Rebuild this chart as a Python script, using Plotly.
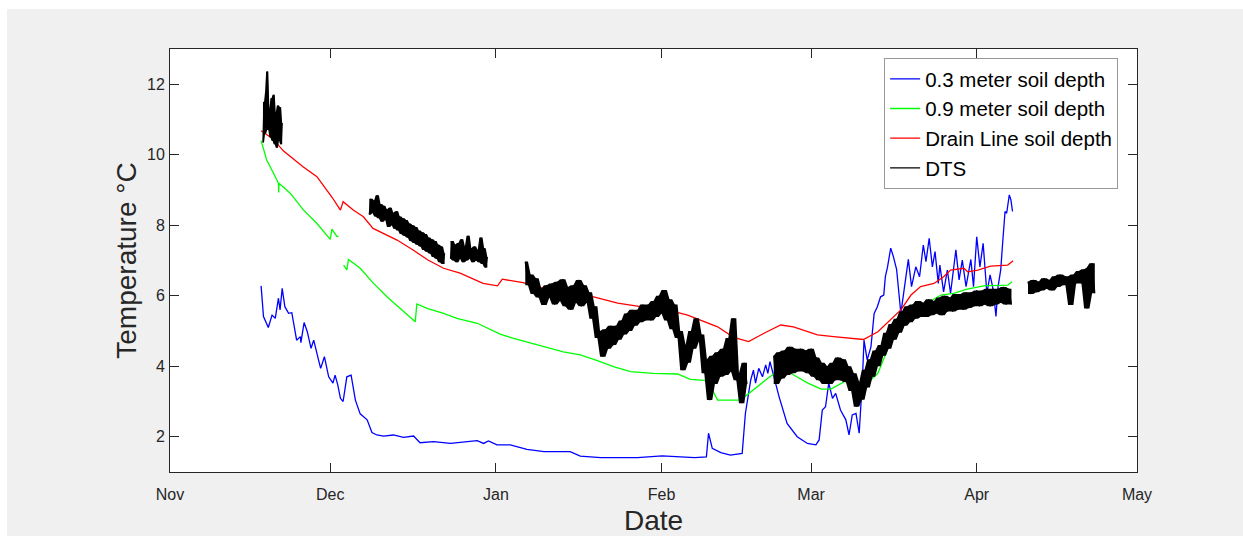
import pandas as pd
import plotly.graph_objects as go

BASE = pd.Timestamp("2018-11-01")

# ---------------- data (x = days since 1 Nov, y = temperature degC) ----------------
d03_day = [17.05, 17.5, 18.4, 19.1, 19.7, 20.3, 20.6, 21.0, 21.5, 22.2, 22.8, 23.7, 24.4, 24.5, 25.1, 25.7,
           26.4, 26.9, 27.8, 28.2, 28.9, 29.7, 30.5, 30.9, 31.4, 31.9, 32.4, 33.1, 33.9, 34.7, 35.6, 36.9,
           37.8, 38.7, 40.0, 41.8, 43.7, 45.6, 46.8, 49.3, 52.5, 56.2, 57.5, 58.7, 59.6, 61.2, 63.7, 66.8,
           70.0, 74.9, 76.8, 80.6, 87.5, 92.1, 98.2, 100.4, 100.8, 101.5, 103.1, 104.9, 107.1, 107.7, 108.1,
           108.7, 109.2, 109.6, 110.2, 110.9, 111.5, 111.9, 112.3, 113.0, 114.0, 115.5, 117.4, 119.3, 120.9,
           121.5, 122.1, 122.7, 123.3, 124.0, 124.6, 125.5, 126.5, 127.1, 127.7, 128.4, 129.0, 129.6, 129.9,
           130.5, 131.2, 131.8, 132.4, 133.0, 133.6, 133.9, 134.3, 134.9, 135.4, 136.0, 136.8, 137.4, 138.2,
           138.8, 139.6, 140.3, 141.0, 141.5, 142.1, 142.7, 143.2, 143.8, 144.1, 144.8, 145.5, 146.1, 147.1,
           147.7, 148.3, 149.0, 149.9, 150.4, 151.0, 151.6, 152.2, 152.9, 153.5, 154.1, 154.6, 155.0, 155.5,
           155.8, 156.3, 156.6, 157.1, 157.4, 157.7]
d03_temp = [6.28, 5.41, 5.10, 5.45, 5.36, 5.93, 5.60, 6.21, 5.69, 5.50, 5.52, 4.74, 4.84, 4.67, 5.24, 4.98,
            4.51, 4.74, 4.18, 3.94, 4.27, 3.70, 3.52, 3.75, 3.47, 3.09, 3.00, 3.70, 3.75, 3.04, 2.65, 2.48,
            2.12, 2.05, 2.02, 2.05, 1.98, 2.02, 1.83, 1.86, 1.81, 1.86, 1.89, 1.81, 1.88, 1.77, 1.77, 1.64,
            1.58, 1.58, 1.45, 1.41, 1.41, 1.46, 1.41, 1.43, 2.10, 1.67, 1.55, 1.48, 1.53, 2.66, 3.09,
            3.61, 3.89, 3.52, 3.94, 3.70, 4.04, 3.80, 4.13, 3.70, 3.14, 2.38, 2.00, 1.81, 1.77,
            1.91, 2.76, 2.85, 3.52, 3.09, 3.23, 2.76, 2.48, 2.05, 2.62, 2.66, 2.10, 3.61, 4.74,
            4.18, 4.55, 5.50, 5.69, 5.97, 6.02, 6.54, 6.81, 7.35, 7.11, 6.75, 5.50, 6.16, 7.03,
            6.26, 6.82, 6.54, 7.44, 6.97, 7.63, 6.82, 7.25, 6.35, 6.87, 6.11, 6.73, 6.07, 7.30,
            6.45, 7.01, 6.26, 7.03, 6.26, 7.67, 6.82, 7.49, 6.07, 6.59, 6.16, 5.41, 6.26, 6.75,
            7.39, 8.39, 8.34, 8.86, 8.72, 8.39]

d09_day = [17.05, 17.5, 18.1, 19.4, 20.3, 20.35, 20.4, 22.5, 25.0, 27.5, 30.0, 30.3, 31.2, 31.5, None,
           32.5, 33.1, 33.4, 35.6, 38.1, 40.6, 43.1, 45.9, 46.2, 48.1, 51.2, 53.7, 57.5, 60.0, 61.8, 64.3,
           68.0, 71.2, 73.6, 76.8, 80.0, 83.0, 86.2, 90.5, 95.0, 97.4, 100.6, 102.5, 106.8, 109.2, 111.9,
           113.7, 116.2, 119.4, 121.9, 123.7, 126.8, 129.8, 132.5, 134.9, 136.8, 138.1, 140.5, 144.3, 146.7,
           149.0, 152.3, 155.5, 156.8, 157.6]
d09_temp = [10.40, 10.18, 9.85, 9.47, 9.19, 8.93, 9.19, 8.91, 8.43, 8.05, 7.60, 7.89, 7.69, 7.67, None,
            6.87, 6.73, 7.03, 6.78, 6.35, 5.97, 5.64, 5.26, 5.77, 5.64, 5.50, 5.36, 5.22, 5.03, 4.91, 4.79,
            4.65, 4.51, 4.41, 4.32, 4.16, 3.99, 3.85, 3.80, 3.78, 3.63, 3.59, 3.04, 3.04, 3.33, 3.66,
            3.85, 3.80, 3.52, 3.35, 3.35, 3.61, 3.42, 3.80, 4.70, 5.12, 5.41, 5.69, 6.02, 6.07,
            6.18, 6.28, 6.28, 6.30, 6.40]

drain_day = [17.05, 19.3, 21.2, 24.9, 27.5, 29.6, 30.4, 31.9, 32.4, 34.3, 36.2, 38.0, 39.9, 42.5, 45.5,
             48.2, 51.2, 54.3, 58.6, 61.3, 62.2, 66.1, 69.9, 74.4, 79.3, 83.8, 88.1, 93.1, 96.9, 99.3,
             102.5, 105.5, 108.3, 111.1, 114.3, 116.7, 121.2, 124.2, 129.8, 132.5, 134.9, 136.8, 138.7,
             140.5, 143.0, 144.8, 146.1, 148.6, 149.3, 151.2, 153.6, 156.8, 157.8]
drain_temp = [10.68, 10.45, 10.11, 9.66, 9.38, 8.95, 8.78, 8.43, 8.67, 8.43, 8.24, 7.91, 7.77, 7.58, 7.30,
              7.02, 6.78, 6.64, 6.35, 6.28, 6.47, 6.37, 6.21, 6.11, 5.97, 5.79, 5.69, 5.60, 5.45, 5.31,
              5.12, 4.82, 4.70, 4.93, 5.17, 5.12, 4.89, 4.84, 4.76, 4.98, 5.31, 5.60, 6.02,
              6.26, 6.35, 6.54, 6.73, 6.78, 6.68, 6.73, 6.84, 6.87, 6.99]

dts_day_1 = [17.4, 17.6, 17.8, 18.0, 18.2, 18.4, 18.6, 18.8, 19.0, 19.2, 19.4, 19.6, 19.8, 20.0, 20.2,
             20.4, 20.6, 20.8, 21.0]
dts_temp_1 = [10.35, 11.5, 10.6, 11.8, 12.36, 10.7, 11.3, 10.5, 11.6, 10.4, 11.7, 10.3, 11.2, 10.2, 11.4,
              10.4, 11.35, 10.3, 10.9]

dts_day_2 = [37.3, 37.6, 37.9, 38.2, 38.5, 38.8, 39.1, 39.4, 39.7, 40.0, 40.3, 40.6, 40.9, 41.2, 41.5,
             41.8, 42.1, 42.4, 42.7, 43.0, 43.3, 43.6, 43.9, 44.2, 44.5, 44.8, 45.1, 45.4, 45.7, 46.0,
             46.3, 46.6, 46.9, 47.2, 47.5, 47.8, 48.1, 48.4, 48.7, 49.0, 49.3, 49.6, 49.9, 50.2, 50.5,
             50.8, 51.1, 51.4]
dts_temp_2 = [8.30, 8.75, 8.35, 8.70, 8.25, 8.85, 8.20, 8.60, 8.10, 8.55, 8.15, 8.45, 7.95, 8.50, 8.00,
              8.35, 7.90, 8.40, 7.85, 8.25, 7.75, 8.20, 7.70, 8.15, 7.65, 8.05, 7.55, 8.00, 7.50, 7.95,
              7.45, 7.85, 7.40, 7.80, 7.30, 7.75, 7.25, 7.65, 7.20, 7.60, 7.10, 7.55, 7.05, 7.45, 6.95,
              7.40, 6.90, 7.20]

dts_day_3 = [52.5, 52.8, 53.1, 53.4, 53.7, 54.0, 54.3, 54.6, 54.9, 55.2, 55.5, 55.8, 56.1, 56.4, 56.7,
             57.0, 57.3, 57.6, 57.9, 58.2, 58.5, 58.8, 59.1, 59.4]
dts_temp_3 = [7.05, 7.55, 7.00, 7.45, 6.95, 7.50, 7.05, 7.60, 6.95, 7.40, 7.00, 7.70, 7.05, 7.35, 6.95,
              7.40, 7.00, 7.30, 6.95, 7.65, 6.90, 7.35, 6.80, 7.10]

dts_day_4 = [66.5, 67.0, 67.5, 68.0, 68.5, 69.0, 69.5, 70.0, 70.5, 71.0, 71.5, 72.0, 72.5, 73.0, 73.5,
             74.0, 74.5, 75.0, 75.5, 76.0, 76.5, 77.0, 77.5, 78.0, 78.5, 79.0, 79.5, 80.0, 80.5, 81.0,
             81.5, 82.0, 82.5, 83.0, 83.5, 84.0, 84.5, 85.0, 85.5, 86.0, 86.5, 87.0, 87.5, 88.0, 88.5,
             89.0, 89.5, 90.0, 90.5, 91.0, 91.5, 92.0, 92.5, 93.0, 93.5, 94.0, 94.5, 95.0, 95.5, 96.0,
             96.5, 97.0, 97.5, 98.0, 98.5, 99.0, 99.5, 100.0, 100.5, 101.0, 101.5, 102.0, 102.5, 103.0,
             103.5, 104.0, 104.5, 105.0, 105.5, 106.0, 106.5, 107.0, 107.5, 108.0]
dts_temp_4 = [6.97, 6.30, 6.60, 6.05, 6.50, 5.95, 6.20, 5.74, 6.30, 5.95, 6.35, 5.75, 6.40, 5.85, 6.47,
              5.70, 6.25, 5.60, 6.30, 5.80, 6.45, 5.70, 6.30, 5.80, 6.10, 5.35, 5.70, 4.80, 5.00, 4.27,
              5.05, 4.50, 5.15, 4.60, 5.15, 4.75, 5.30, 4.90, 5.50, 5.00, 5.60, 5.15, 5.60, 5.25, 5.75,
              5.30, 5.75, 5.30, 5.85, 5.40, 6.00, 5.50, 6.16, 5.30, 5.90, 5.05, 5.75, 4.80, 5.00, 3.89,
              4.60, 4.10, 5.00, 4.50, 5.36, 4.70, 4.90, 3.80, 4.20, 3.04, 4.30, 3.50, 4.40, 3.70,
              4.50, 3.75, 4.80, 3.85, 5.36, 3.60, 3.80, 2.95, 4.10, 3.50]

dts_day_5 = [113.0, 113.5, 114.0, 114.5, 115.0, 115.5, 116.0, 116.5, 117.0, 117.5, 118.0, 118.5, 119.0,
             119.5, 120.0, 120.5, 121.0, 121.5, 122.0, 122.5, 123.0, 123.5, 124.0, 124.5, 125.0, 125.5,
             126.0, 126.5, 127.0, 127.5, 128.0, 128.5, 129.0, 129.5, 130.0, 130.5, 131.0, 131.5, 132.0,
             132.5, 133.0, 133.5, 134.0, 134.5, 135.0, 135.5, 136.0, 136.5, 137.0, 137.5, 138.0, 138.5,
             139.0, 139.5, 140.0, 140.5, 141.0, 141.5, 142.0, 142.5, 143.0, 143.5, 144.0, 144.5, 145.0,
             145.5, 146.0, 146.5, 147.0, 147.5, 148.0, 148.5, 149.0, 149.5, 150.0, 150.5, 151.0, 151.5,
             152.0, 152.5, 153.0, 153.5, 154.0, 154.5, 155.0, 155.5, 156.0, 156.5, 157.0, 157.5]
dts_temp_5 = [4.30, 3.50, 4.40, 3.65, 4.45, 3.75, 4.55, 3.80, 4.50, 3.85, 4.50, 3.85, 4.45, 3.80, 4.50,
              3.70, 4.25, 3.60, 4.10, 3.50, 4.00, 3.50, 4.10, 3.60, 4.25, 3.60, 4.20, 3.55, 4.00, 3.30,
              3.80, 2.85, 3.55, 3.05, 3.90, 3.40, 4.20, 3.70, 4.45, 4.00, 4.60, 4.30, 4.95, 4.50, 5.20,
              4.75, 5.35, 4.95, 5.55, 5.15, 5.70, 5.25, 5.75, 5.35, 5.85, 5.40, 5.80, 5.40, 5.90, 5.45,
              5.85, 5.50, 5.95, 5.45, 6.00, 5.55, 5.95, 5.55, 6.05, 5.60, 6.05, 5.60, 6.10, 5.65, 6.10,
              5.70, 6.15, 5.70, 6.15, 5.75, 6.20, 5.70, 6.20, 5.75, 6.20, 5.80, 6.25, 5.75, 6.20, 5.75]

dts_day_6 = [160.6, 161.1, 161.6, 162.1, 162.6, 163.1, 163.6, 164.1, 164.6, 165.1, 165.6, 166.1, 166.6,
             167.1, 167.6, 168.1, 168.6, 169.1, 169.6, 170.1, 170.6, 171.1, 171.6, 172.1, 172.6, 173.1]
dts_temp_6 = [6.40, 6.05, 6.45, 6.10, 6.40, 6.15, 6.50, 6.20, 6.45, 6.15, 6.55, 6.25, 6.60, 6.30, 6.55,
              6.30, 5.74, 6.60, 6.35, 6.70, 6.35, 6.75, 5.64, 6.80, 6.92, 6.07]

series_names = ["0.3 meter soil depth", "0.9 meter soil depth", "Drain Line soil depth", "DTS"]
y_ticks = [2, 4, 6, 8, 10, 12]


def to_dates(days):
    return [None if d is None else BASE + pd.Timedelta(days=d) for d in days]


dts_segments = [(dts_day_1, dts_temp_1), (dts_day_2, dts_temp_2), (dts_day_3, dts_temp_3),
                (dts_day_4, dts_temp_4), (dts_day_5, dts_temp_5), (dts_day_6, dts_temp_6)]

# line trace (all segments, gaps between) and the filled envelope of the noisy DTS band
dts_day, dts_temp = [], []
band_day, band_temp = [], []
for dd, tt in dts_segments:
    if dts_day:
        dts_day.append(None)
        dts_temp.append(None)
        band_day.append(None)
        band_temp.append(None)
    dts_day.extend(dd)
    dts_temp.extend(tt)
    n = len(tt)
    upper = [max(tt[max(0, i - 1):i + 2]) for i in range(n)]
    lower = [min(tt[max(0, i - 1):i + 2]) for i in range(n)]
    band_day.extend(list(dd) + list(dd)[::-1])
    band_temp.extend(upper + lower[::-1])

FONT = "Liberation Sans, Arial, Helvetica, sans-serif"
AX = "#262626"

fig = go.Figure()
for days, temps, name, color, w in [
    (d03_day, d03_temp, series_names[0], "#0000ff", 1.3),
    (d09_day, d09_temp, series_names[1], "#00ff00", 1.3),
    (drain_day, drain_temp, series_names[2], "#ff0000", 1.3),
]:
    fig.add_trace(go.Scatter(x=to_dates(days), y=temps, mode="lines", name=name,
                             line=dict(color=color, width=w), connectgaps=False))

fig.add_trace(go.Scatter(x=to_dates(band_day), y=band_temp, mode="none", fill="toself",
                         fillcolor="#000000", showlegend=False, hoverinfo="skip"))
fig.add_trace(go.Scatter(x=to_dates(dts_day), y=dts_temp, mode="lines", name=series_names[3],
                         line=dict(color="#000000", width=1.3), connectgaps=False))

fig.update_layout(
    width=1243, height=536,
    margin=dict(l=170, r=106, t=49, b=64, pad=0),
    paper_bgcolor="#f0f0f0", plot_bgcolor="#ffffff",
    font=dict(family=FONT, size=16, color=AX),
    showlegend=True,
    legend=dict(x=0.7385, y=0.9787, xanchor="left", yanchor="top",
                bgcolor="#ffffff", bordercolor="#999999", borderwidth=1,
                font=dict(size=20.5, color="#000000", family=FONT), tracegroupgap=0),
    shapes=[
        dict(type="rect", xref="paper", yref="paper", x0=-0.2, x1=1.2, y0=1.0946, y1=1.2,
             fillcolor="#ffffff", line=dict(width=0), layer="above"),
        dict(type="rect", xref="paper", yref="paper", x0=-0.2, x1=-0.1686, y0=-0.2, y1=1.2,
             fillcolor="#ffffff", line=dict(width=0), layer="above"),
    ],
)
fig.update_xaxes(
    type="date", range=[BASE, BASE + pd.Timedelta(days=181)],
    tick0=BASE, dtick="M1", tickformat="%b", automargin=False,
    showline=True, linecolor=AX, linewidth=1, mirror="ticks",
    ticks="inside", ticklen=9, tickcolor=AX, tickwidth=1,
    showgrid=False, zeroline=False, ticklabelstandoff=8,
    title=dict(text="Date", font=dict(size=28, color=AX), standoff=9),
)
fig.update_yaxes(
    range=[1, 13], tickvals=y_ticks, automargin=False,
    showline=True, linecolor=AX, linewidth=1, mirror="ticks",
    ticks="inside", ticklen=9, tickcolor=AX, tickwidth=1,
    showgrid=False, zeroline=False, ticklabelstandoff=1,
    title=dict(text="Temperature °C", font=dict(size=28, color=AX), standoff=2),
)

fig.write_html("out.html")
